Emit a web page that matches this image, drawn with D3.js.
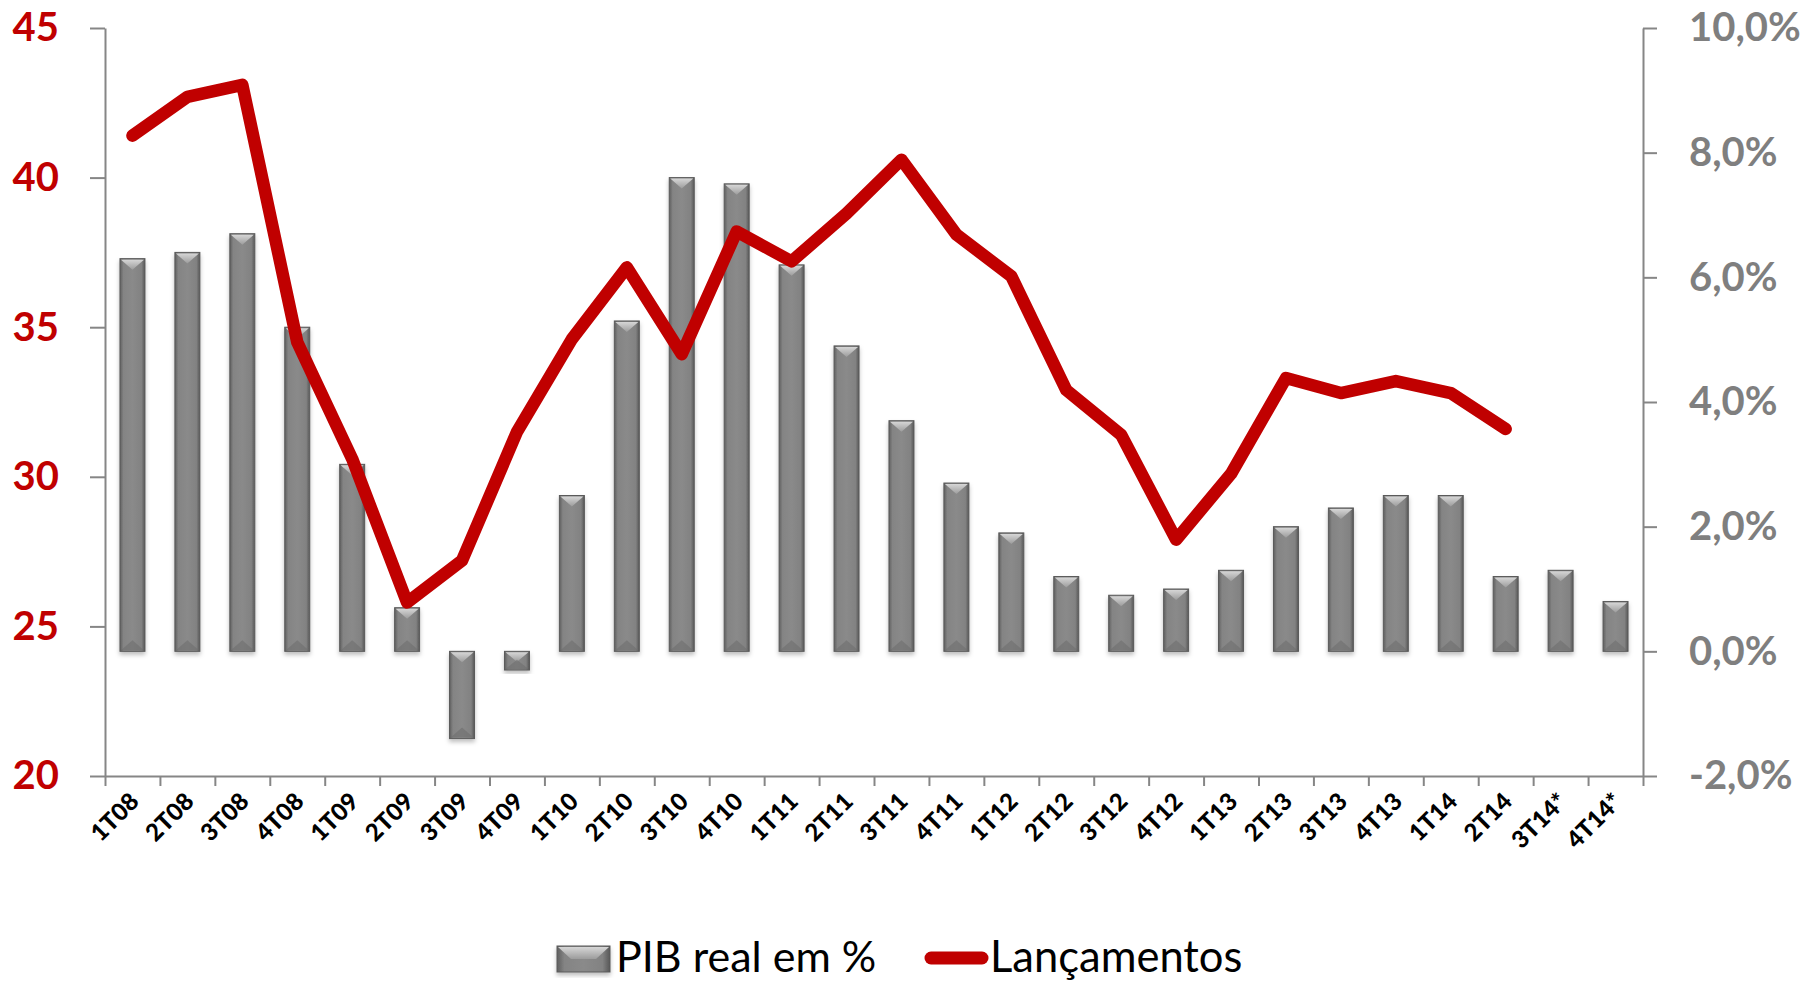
<!DOCTYPE html>
<html>
<head>
<meta charset="utf-8">
<script src="https://cdn.jsdelivr.net/npm/d3@7"></script>
<style>
  body { margin: 0; background: #fff; }
  svg { display: block; font-family: Lato, "Open Sans", sans-serif; }
</style>
</head>
<body>
<div id="chart"></div>
<script>
const width = 1812;
const height = 981;

// data
const quarters = ["1T08", "2T08", "3T08", "4T08", "1T09", "2T09", "3T09", "4T09",
  "1T10", "2T10", "3T10", "4T10", "1T11", "2T11", "3T11", "4T11",
  "1T12", "2T12", "3T12", "4T12", "1T13", "2T13", "3T13", "4T13",
  "1T14", "2T14", "3T14*", "4T14*"];
const pibReal = [6.3, 6.4, 6.7, 5.2, 3.0, 0.7, -1.4, -0.3,
  2.5, 5.3, 7.6, 7.5, 6.2, 4.9, 3.7, 2.7,
  1.9, 1.2, 0.9, 1.0, 1.3, 2.0, 2.3, 2.5,
  2.5, 1.2, 1.3, 0.8];
const lancamentos = [41.4, 42.7, 43.1, 34.5, 30.6, 25.8, 27.2, 31.5,
  34.6, 37.0, 34.1, 38.2, 37.2, 38.8, 40.6, 38.1,
  36.7, 32.9, 31.4, 27.9, 30.1, 33.3, 32.8, 33.2,
  32.8, 31.6, null, null];
const leftTicks = [20, 25, 30, 35, 40, 45];
const rightTicks = [-2, 0, 2, 4, 6, 8, 10];

const red = "#C00000";
const axisGray = "#868686";

var margin = {top: 28, right: 169, bottom: 205, left: 105};
var plotW = width - margin.left - margin.right;
var plotH = height - margin.top - margin.bottom;

const svg = d3.select("#chart").append("svg")
  .attr("width", width)
  .attr("height", height);

const defs = svg.append("defs");

// bar body: darker edges, lighter middle
const bodyGrad = defs.append("linearGradient").attr("id", "barBody")
  .attr("x1", "0%").attr("x2", "100%").attr("y1", "0%").attr("y2", "0%");
bodyGrad.append("stop").attr("offset", "0%").attr("stop-color", "#5f5f5f");
bodyGrad.append("stop").attr("offset", "14%").attr("stop-color", "#848484");
bodyGrad.append("stop").attr("offset", "50%").attr("stop-color", "#8a8a8a");
bodyGrad.append("stop").attr("offset", "86%").attr("stop-color", "#828282");
bodyGrad.append("stop").attr("offset", "100%").attr("stop-color", "#575757");

// top bevel highlight
const bevelGrad = defs.append("linearGradient").attr("id", "barBevel")
  .attr("x1", "0%").attr("x2", "0%").attr("y1", "0%").attr("y2", "100%");
bevelGrad.append("stop").attr("offset", "0%").attr("stop-color", "#d6d6d6");
bevelGrad.append("stop").attr("offset", "100%").attr("stop-color", "#9c9c9c");

const shadow = defs.append("filter").attr("id", "barShadow")
  .attr("x", "-30%").attr("y", "-10%").attr("width", "160%").attr("height", "130%");
shadow.append("feDropShadow")
  .attr("dx", 0).attr("dy", 3).attr("stdDeviation", 2)
  .attr("flood-color", "#000").attr("flood-opacity", 0.25);

const g = svg.append("g")
  .attr("transform", "translate(" + margin.left + "," + margin.top + ")");

// scales
var x = d3.scaleBand().domain(quarters).range([0, plotW]).padding(0);
var xEdge = d3.scaleLinear().domain([0, quarters.length]).range([0, plotW]);
var yLeft = d3.scaleLinear().domain([20, 45]).range([plotH, 0]);
var yRight = d3.scaleLinear().domain([-2, 10]).range([plotH, 0]);

var barW = x.bandwidth() * 0.455;

// bars (right axis)
const bars = g.append("g").selectAll("g.bar")
  .data(quarters.map((q, i) => ({q: q, v: pibReal[i]})))
  .enter().append("g")
  .attr("class", "bar")
  .attr("filter", "url(#barShadow)");

bars.each(function(d) {
  var sel = d3.select(this);
  var bx = x(d.q) + (x.bandwidth() - barW) / 2;
  var y0 = yRight(Math.max(0, d.v));
  var y1 = yRight(Math.min(0, d.v));
  var h = y1 - y0;
  var bev = Math.min(10, h / 2);
  sel.append("rect")
    .attr("x", bx).attr("y", y0)
    .attr("width", barW).attr("height", h)
    .attr("fill", "url(#barBody)")
    .attr("stroke", "#5a5a5a").attr("stroke-width", 1);
  // light chevron at the top
  sel.append("polygon")
    .attr("points", [[bx + 1, y0 + 1], [bx + barW - 1, y0 + 1], [bx + barW / 2, y0 + 1 + bev]].join(" "))
    .attr("fill", "url(#barBevel)");
  // faint dark chevron at the bottom
  sel.append("polygon")
    .attr("points", [[bx + 1, y1 - 1], [bx + barW - 1, y1 - 1], [bx + barW / 2, y1 - 1 - bev]].join(" "))
    .attr("fill", "#6e6e6e").attr("opacity", 0.6);
});

// line (left axis)
var line = d3.line()
  .defined(d => d.v != null)
  .x(d => x(d.q) + x.bandwidth() / 2)
  .y(d => yLeft(d.v));

g.append("path")
  .datum(quarters.map((q, i) => ({q: q, v: lancamentos[i]})))
  .attr("fill", "none")
  .attr("stroke", red)
  .attr("stroke-width", 12.5)
  .attr("stroke-linejoin", "round")
  .attr("stroke-linecap", "round")
  .attr("d", line);

// left axis
const leftAxis = g.append("g")
  .call(d3.axisLeft(yLeft).tickValues(leftTicks).tickSize(15).tickSizeOuter(0).tickPadding(31));
leftAxis.selectAll("text")
  .attr("fill", red).style("font-size", "40px").style("font-weight", "bold");

// right axis
const rightAxis = g.append("g")
  .attr("transform", "translate(" + plotW + ",0)")
  .call(d3.axisRight(yRight).tickValues(rightTicks).tickSize(14).tickSizeOuter(0).tickPadding(32)
    .tickFormat(d => d.toFixed(1).replace(".", ",") + "%"));
rightAxis.selectAll("text")
  .attr("fill", "#7f7f7f").style("font-size", "40px").style("font-weight", "bold");

// bottom axis: ticks between categories
g.append("g")
  .attr("transform", "translate(0," + plotH + ")")
  .call(d3.axisBottom(xEdge).tickValues(d3.range(quarters.length + 1)).tickSize(10).tickSizeOuter(0).tickFormat(""));

// bottom axis: rotated category labels
const labelAxis = g.append("g")
  .attr("transform", "translate(0," + plotH + ")")
  .call(d3.axisBottom(x).tickSize(0));
labelAxis.select(".domain").remove();
labelAxis.selectAll("text")
  .attr("x", 0).attr("y", 0).attr("dy", 0)
  .attr("transform", "translate(8,27) rotate(-45)")
  .attr("text-anchor", "end")
  .attr("fill", "#000")
  .style("font-size", "24px")
  .style("font-weight", "900");

svg.selectAll(".domain, .tick line")
  .attr("stroke", axisGray).attr("stroke-width", 2);
svg.selectAll(".tick text").style("font-family", "Lato, 'Open Sans', sans-serif");

// legend
const legend = svg.append("g");
const lg1 = legend.append("g").attr("filter", "url(#barShadow)");
lg1.append("rect")
  .attr("x", 557).attr("y", 946).attr("width", 53).attr("height", 26)
  .attr("fill", "url(#barBody)").attr("stroke", "#5a5a5a").attr("stroke-width", 1);
lg1.append("polygon")
  .attr("points", "558,947 609,947 596,959 571,959")
  .attr("fill", "url(#barBevel)");
legend.append("text")
  .attr("x", 616).attr("y", 972)
  .style("font-size", "43px")
  .text("PIB real em %");
legend.append("line")
  .attr("x1", 931).attr("x2", 982).attr("y1", 958).attr("y2", 958)
  .attr("stroke", red).attr("stroke-width", 13).attr("stroke-linecap", "round");
legend.append("text")
  .attr("x", 990).attr("y", 972)
  .style("font-size", "43.5px")
  .text("Lançamentos");
</script>
</body>
</html>
